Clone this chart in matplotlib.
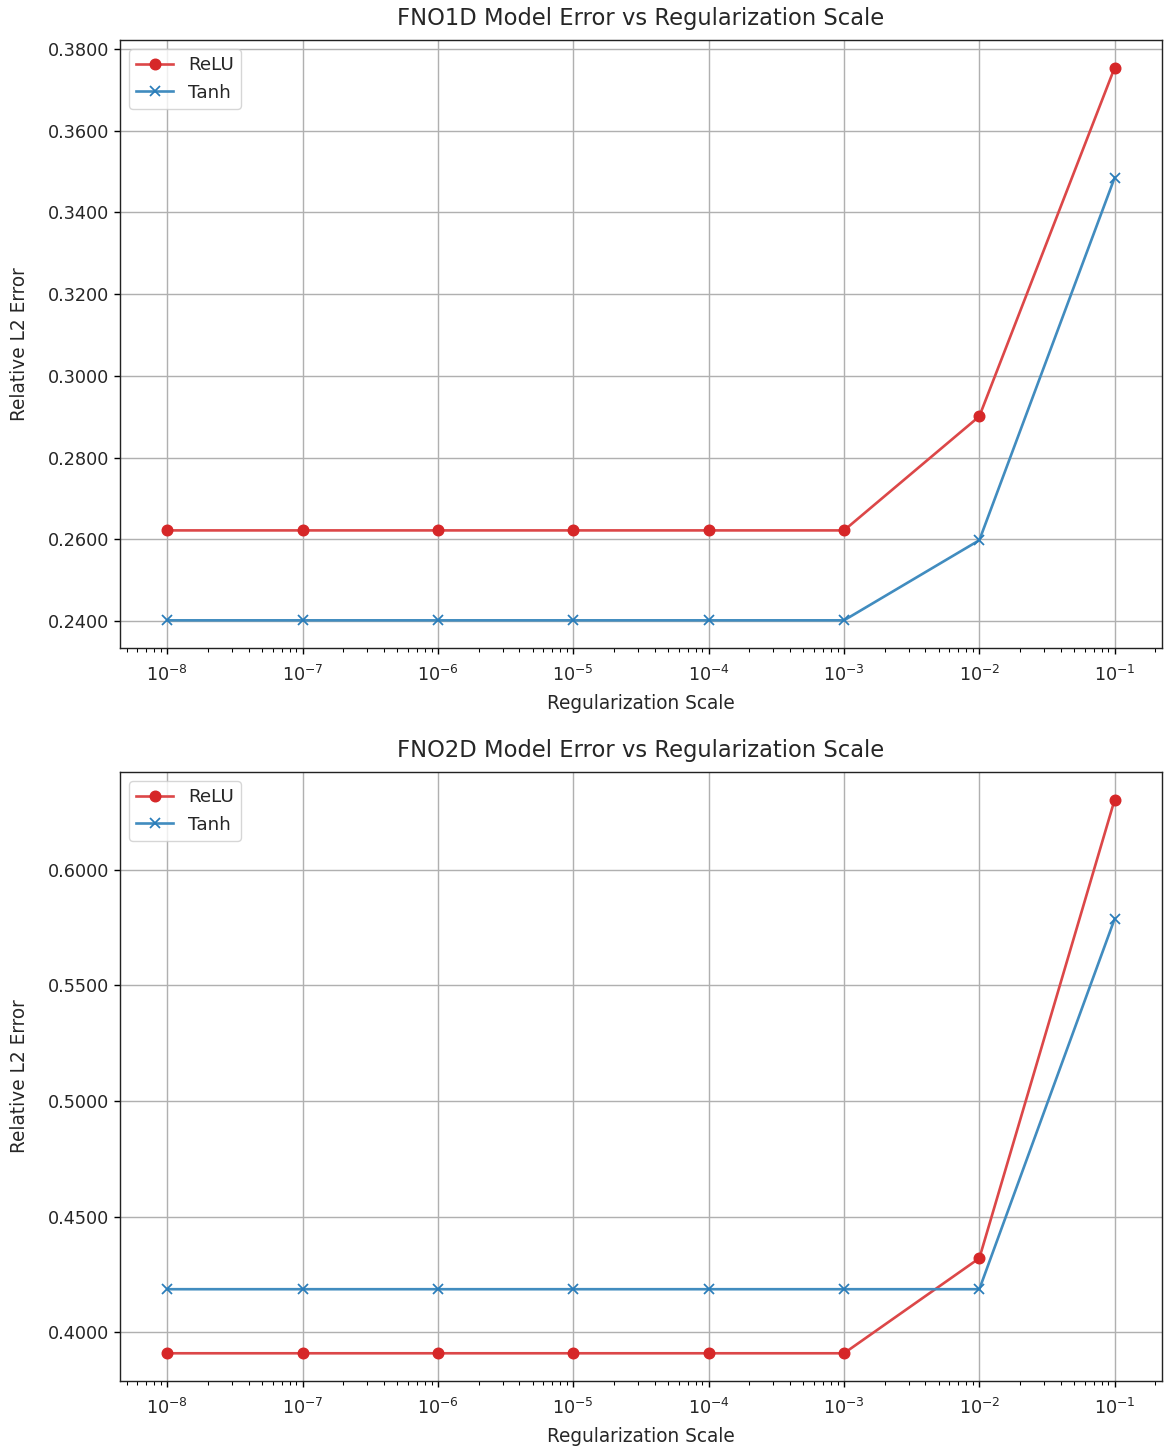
import matplotlib
matplotlib.use("Agg")
import matplotlib.pyplot as plt
from matplotlib.ticker import FormatStrFormatter, NullFormatter

reg_scales = [1e-8, 1e-7, 1e-6, 1e-5, 1e-4, 1e-3, 1e-2, 1e-1]

fno1d_relu = [0.2622, 0.2622, 0.2622, 0.2622, 0.2622, 0.2622, 0.2901, 0.3754]
fno1d_tanh = [0.2402, 0.2402, 0.2402, 0.2402, 0.2402, 0.2402, 0.2598, 0.3485]

fno2d_relu = [0.3909, 0.3909, 0.3909, 0.3909, 0.3909, 0.3909, 0.4320, 0.6303]
fno2d_tanh = [0.4186, 0.4186, 0.4186, 0.4186, 0.4186, 0.4186, 0.4186, 0.5788]

titles = ["FNO1D Model Error vs Regularization Scale",
          "FNO2D Model Error vs Regularization Scale"]

S = 1.27
plt.rcParams['font.family'] = ['DejaVu Sans']
plt.rcParams['font.size'] = 10 * S
TXT = '#262626'

fig = plt.figure(figsize=(11.68, 14.48), dpi=100)
ax1 = fig.add_axes([0.1027, 0.5525, 0.8922, 0.4199])
ax2 = fig.add_axes([0.1027, 0.0463, 0.8922, 0.4206])

for ax, relu, tanh, title in [(ax1, fno1d_relu, fno1d_tanh, titles[0]),
                              (ax2, fno2d_relu, fno2d_tanh, titles[1])]:
    ax.plot(reg_scales, relu, marker='o', color='#dc4748',
            markerfacecolor='#d62728', markeredgecolor='#d62728', label='ReLU',
            linewidth=1.5 * S, markersize=6 * S)
    ax.plot(reg_scales, tanh, marker='x', color='#418cbf',
            markeredgecolor='#2a7dba', label='Tanh',
            linewidth=1.5 * S, markersize=6 * S, markeredgewidth=1.0 * S)
    ax.set_xscale('log')
    ax.xaxis.set_minor_formatter(NullFormatter())
    ax.yaxis.set_major_formatter(FormatStrFormatter('%.4f'))
    ax.set_title(title, fontsize=12.8 * S, pad=11, color=TXT)
    ax.set_xlabel('Regularization Scale', fontsize=10.5 * S, labelpad=6, color=TXT)
    ax.set_ylabel('Relative L2 Error', fontsize=10.5 * S, labelpad=13, color=TXT)
    ax.grid(True, color='#b0b0b0', linewidth=0.8 * S)
    ax.tick_params(axis='both', which='major', labelsize=10 * S, length=3.5 * S,
                   width=0.8 * S, labelcolor=TXT)
    ax.tick_params(axis='x', which='major', pad=8)
    ax.tick_params(axis='both', which='minor', length=2 * S, width=0.6 * S)
    for sp in ax.spines.values():
        sp.set_linewidth(0.8 * S)
        sp.set_color('#222222')
    leg = ax.legend(loc='upper left', fontsize=10.4 * S)
    for t in leg.get_texts():
        t.set_color(TXT)

fig.savefig('out.png', dpi=100)
